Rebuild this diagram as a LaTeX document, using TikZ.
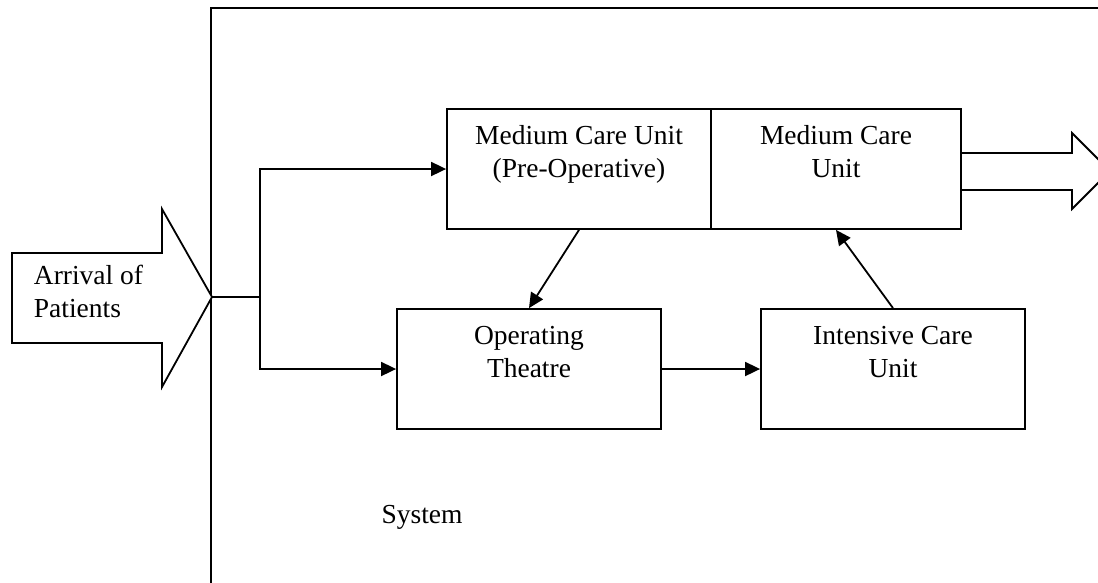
\documentclass[tikz,border=0pt]{standalone}
\usepackage{fontspec}
\setmainfont{Liberation Serif}
\usetikzlibrary{arrows.meta}
\begin{document}
\begin{tikzpicture}[x=1pt, y=-1pt, line width=1.8pt,
  unit/.style={draw, rectangle, minimum height=120pt, inner sep=0pt},
  caption/.style={align=center, font=\fontsize{27.5}{33}\selectfont, inner sep=0pt, anchor=base},
  flow/.style={-{Triangle[length=15pt,width=14pt]}},
  bigarrow/.style={draw, fill=white, line join=miter}]
\useasboundingbox (0,0) rectangle (1098,582);
\clip (0,0) rectangle (1098,582);
\fill[white] (0,0) rectangle (1098,582);

% system boundary
\draw (211,600) -- (211,8) -- (1120,8);

% inflow of patients
\draw[bigarrow] (12,253) -- (162,253) -- (162,209) -- (212,297) coordinate (inflow)
  -- (162,387) -- (162,343) -- (12,343) -- cycle;
% (base anchor of a two-line caption sits on its last line)
\node[caption, anchor=base west, align=left] (arrival) at (33,317) {Arrival of\\Patients};

% care units
\node[unit, minimum width=264pt] (mcupre) at (579,169) {};
\node[unit, minimum width=250pt] (mcu) at (836,169) {};
\node[unit, minimum width=264pt] (ot) at (529,369) {};
\node[unit, minimum width=264pt] (icu) at (893,369) {};

\node[caption] (mcupre-t) at ([yshift=-69pt]mcupre.north) {Medium Care Unit\\(Pre-Operative)};
\node[caption] (mcu-t) at ([yshift=-69pt]mcu.north) {Medium Care\\Unit};
\node[caption] (ot-t) at ([yshift=-69pt]ot.north) {Operating\\Theatre};
\node[caption] (icu-t) at ([yshift=-69pt]icu.north) {Intensive Care\\Unit};

% outflow
\draw[line join=miter] (mcu.east |- 0,153) -- (1072,153) -- (1072,133) -- (1110,171)
  -- (1072,209) -- (1072,190) -- (mcu.east |- 0,190);

% patient routes
\coordinate (fork) at (260,297);
\draw (inflow) -- (fork);
\draw[flow] (fork) |- (mcupre.west);
\draw[flow] (fork) |- (ot.west);
\draw[flow] (mcupre.south) -- (ot.north);
\draw[flow] (ot.east) -- (icu.west);
\draw[flow] (icu.north) -- (mcu.south);

\node[caption] (system) at (422,523) {System};
\end{tikzpicture}
\end{document}
